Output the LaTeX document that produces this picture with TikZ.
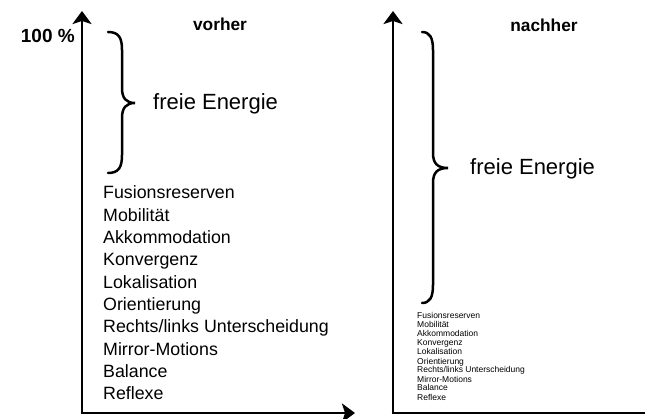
\documentclass[tikz,border=0pt]{standalone}
\usepackage{fontspec}
\setmainfont{Liberation Sans}
\usetikzlibrary{arrows.meta}
\begin{document}
\begin{tikzpicture}[x=1pt,y=-1pt,
  axis/.style={line width=2.6pt,-{Stealth[length=13pt,width=19pt,inset=3pt]}},
  plainaxis/.style={line width=2.6pt},
  brace/.style={line width=2.5pt,line cap=round},
  head/.style={font=\bfseries\fontsize{17.3}{20}\selectfont,anchor=base},
  bigtxt/.style={font=\fontsize{22}{26}\selectfont,anchor=base west,inner sep=0pt},
  item/.style={font=\fontsize{17.8}{20}\selectfont,anchor=base west,inner sep=0pt},
  smallitem/.style={font=\fontsize{8.5}{9}\selectfont,anchor=base west,inner sep=0pt}]
\useasboundingbox (0,0) rectangle (645,419);
% left panel axes
\coordinate (o1) at (82,413);
\coordinate (y1) at (82,11);
\coordinate (x1) at (355,413);
\draw[axis] (o1) -- (y1);
\draw[axis] ([xshift=-1.3pt]o1) -- (x1);
% right panel axes
\coordinate (o2) at (393,413);
\coordinate (y2) at (393,11);
\coordinate (x2) at (646,413);
\draw[axis] (o2) -- (y2);
\draw[plainaxis] ([xshift=-1.3pt]o2) -- (x2);
% labels
\node[font=\bfseries\fontsize{19}{22}\selectfont,anchor=base east,inner sep=0pt] (hundert) at (75,43) {100 \%};
\node[head] (vorher) at (220,31) {vorher};
\node[head] (nachher) at (544,32) {nachher};
% left brace
\draw[brace] (108,32) .. controls (119,32) and (122,38) .. (122,50) -- (122,88)
  .. controls (122,98) and (126,103) .. (135,103)
  .. controls (126,103) and (122,108) .. (122,118) -- (122,155)
  .. controls (122,167) and (119,173) .. (108,173);
\node[bigtxt] (fe1) at (153,110) {freie Energie};
% right brace
\draw[brace] (422,32) .. controls (430,32) and (433,38) .. (433,50) -- (433,153)
  .. controls (433,163) and (437,168) .. (448,168)
  .. controls (437,168) and (433,173) .. (433,183) -- (433,285)
  .. controls (433,297) and (430,303) .. (422,303);
\node[bigtxt] (fe2) at (470,175) {freie Energie};
% left list
\foreach \t [count=\i from 0] in {Fusionsreserven,Mobilität,Akkommodation,Konvergenz,Lokalisation,Orientierung,Rechts/links Unterscheidung,Mirror-Motions,Balance,Reflexe}{
  \node[item] (L\i) at (103,{199+22.3*\i}) {\t};
}
% right list
\foreach \t [count=\i from 0] in {Fusionsreserven,Mobilität,Akkommodation,Konvergenz,Lokalisation,Orientierung,Rechts/links Unterscheidung,Mirror-Motions,Balance,Reflexe}{
  \node[smallitem] (R\i) at (417,{319+9*\i}) {\t};
}
\end{tikzpicture}
\end{document}
